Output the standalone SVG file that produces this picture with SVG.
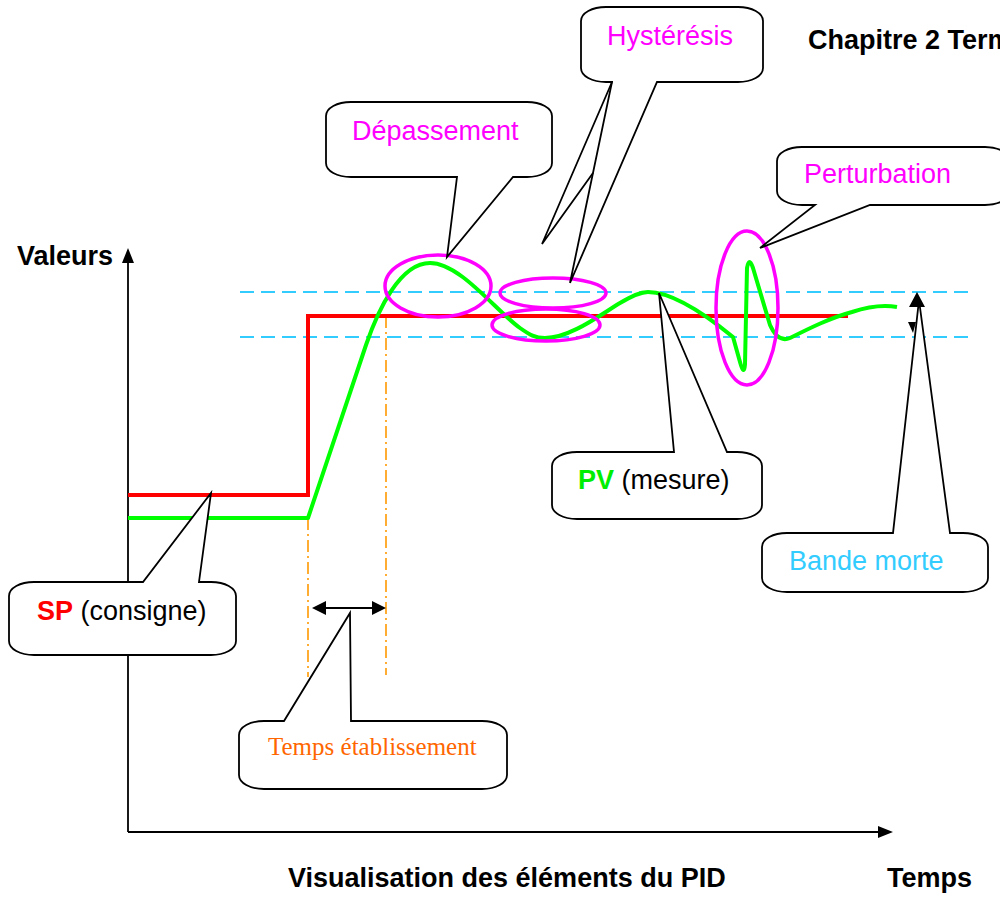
<svg xmlns="http://www.w3.org/2000/svg" width="1000" height="897" viewBox="0 0 1000 897">
<style>
.t{font-family:"Liberation Sans",Arial,sans-serif;font-size:27px}
.b{font-weight:bold}
.co{fill:#fff;stroke:#000;stroke-width:1.8;stroke-linejoin:miter}
.mag{fill:none;stroke:#FF00FF;stroke-width:3.5}
.cy{stroke:#33CCFF;stroke-width:2;stroke-dasharray:14 7;fill:none}
.or{stroke:#FF9900;stroke-width:1.6;stroke-dasharray:12 4 2 4;fill:none}
.ax{stroke:#000;stroke-width:1.8;fill:none}
</style>
<rect width="1000" height="897" fill="#fff"/>

<g id="axes">
<line class="ax" x1="128" y1="832" x2="128" y2="258"/>
<polygon points="128,248 122,263 134,263" fill="#000"/>
<line class="ax" x1="128" y1="832" x2="882" y2="832"/>
<polygon points="893,832 878,826 878,838" fill="#000"/>
<text class="t b" x="17" y="265">Valeurs</text>
<text class="t b" x="887" y="887">Temps</text>
<text class="t b" x="288" y="887">Visualisation des éléments du PID</text>
<text class="t b" x="808" y="49">Chapitre 2 Term</text>
</g>

<g id="bands">
<line class="cy" x1="240" y1="292" x2="975" y2="292"/>
<line class="cy" x1="240" y1="337" x2="975" y2="337"/>
<line class="or" x1="308" y1="518" x2="308" y2="677"/>
<line class="or" x1="386" y1="316" x2="386" y2="675"/>
</g>

<g id="sp-line">
<polyline points="128,495 308,495 308,316 848,316" fill="none" stroke="#FF0000" stroke-width="4"/>
</g>

<g id="pv-curve">
<path d="M128,518 H308 L366,345 C378,310 400,263 430,263 C460,263 495,310 520,328 C530,335 535,338 545,338 C570,338 600,315 620,303 C632,296 640,292 648,292 C670,292 700,310 733,337 L740,362 Q744,377 745,364 L747,268 Q749,256 753,268 L770,325 Q778,343 790,338 C810,328 830,318 852,312 C870,306 885,305 897,307" fill="none" stroke="#00FF00" stroke-width="4" stroke-linejoin="round"/>
</g>

<g id="ellipses">
<ellipse class="mag" cx="438" cy="286" rx="53" ry="31"/>
<ellipse class="mag" cx="553" cy="293" rx="53" ry="15"/>
<ellipse class="mag" cx="546" cy="325" rx="54" ry="16"/>
<ellipse class="mag" cx="747" cy="308" rx="31" ry="77"/>
</g>

<g id="connectors">
<line x1="325" y1="608" x2="373" y2="608" stroke="#000" stroke-width="2"/>
<polygon points="312,608 326,601 326,615" fill="#000"/>
<polygon points="386,608 372,601 372,615" fill="#000"/>
<polygon points="917,292 909,307 925,307" fill="#000"/>
<polygon points="908,322 916,322 913,333" fill="#000"/>
</g>

<g id="depassement">
<path class="co" d="M351,102 H527 C541,102 552,108 552,116 V163 C552,171 541,177 527,177 H513 L447,257 L457,177 H351 C337,177 326,171 326,163 V116 C326,108 337,102 351,102 Z"/>
<text class="t" x="352" y="140" fill="#FF00FF">Dépassement</text>
</g>

<g id="hysteresis">
<path class="co" d="M606,7 H738 C752,7 763,13 763,21 V68 C763,76 752,82 738,82 H657 L570,283 L612,82 H606 C592,82 581,76 581,68 V21 C581,13 592,7 606,7 Z"/>
<polyline points="612,82 542,244 593,173" fill="none" stroke="#000" stroke-width="1.8"/>
<text class="t" x="607" y="45" fill="#FF00FF">Hystérésis</text>
</g>

<g id="perturbation">
<path class="co" d="M802,147 H985 C999,147 1010,153 1010,161 V191 C1010,199 999,205 985,205 H870 L760,248 L815,205 H802 C788,205 777,199 777,191 V161 C777,153 788,147 802,147 Z"/>
<text class="t" x="804" y="183" fill="#FF00FF">Perturbation</text>
</g>

<g id="pv">
<path class="co" d="M577,452 H674 L659,293 L727,452 H737 C751,452 762,458 762,466 V505 C762,513 751,519 737,519 H577 C563,519 552,513 552,505 V466 C552,458 563,452 577,452 Z"/>
<text class="t" x="578" y="489"><tspan class="b" fill="#00EE00">PV</tspan> (mesure)</text>
</g>

<g id="bande-morte">
<path class="co" d="M787,533 H893 L919,300 L950,533 H963 C977,533 988,539 988,547 V578 C988,586 977,592 963,592 H787 C773,592 762,586 762,578 V547 C762,539 773,533 787,533 Z"/>
<text class="t" x="789" y="570" fill="#33CCFF">Bande morte</text>
</g>

<g id="sp">
<path class="co" d="M34,582 H143 L211,493 L199,582 H211 C225,582 236,588 236,596 V641 C236,649 225,655 211,655 H34 C20,655 9,649 9,641 V596 C9,588 20,582 34,582 Z"/>
<text class="t" x="37" y="620"><tspan class="b" fill="#FF0000">SP</tspan> (consigne)</text>
</g>

<g id="temps-etablissement">
<path class="co" d="M264,721 H284 L350,613 L351,721 H482 C496,721 507,727 507,735 V775 C507,783 496,789 482,789 H264 C250,789 239,783 239,775 V735 C239,727 250,721 264,721 Z"/>
<text x="268" y="755" font-family="'Liberation Serif','Times New Roman',serif" font-size="25" fill="#FF6600">Temps établissement</text>
</g>
</svg>
